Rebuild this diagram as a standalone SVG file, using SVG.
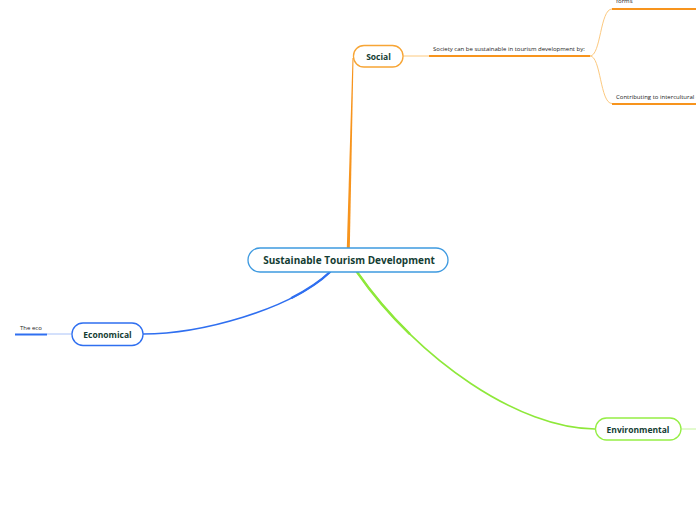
<svg xmlns="http://www.w3.org/2000/svg" width="696" height="520" viewBox="0 0 696 520">
<style>
.node rect{fill:#fff;stroke-width:1.3}
.lbl{font-family:"Open Sans","Noto Sans",sans-serif;font-weight:bold;fill:#143d33;text-anchor:middle}
.sub{font-family:"Open Sans","Noto Sans",sans-serif;font-size:6px;fill:#222}
.thin{fill:none;stroke-width:1}
.main{fill:none;stroke-linecap:round}
</style>
<rect width="696" height="520" fill="#fff"/>
<g id="connectors">
  <path d="M346.8,248 L352.5,58 L353.5,58 L349.8,248 Z" fill="#f7941d"/>
  <path class="main" d="M330,272 C 290,310 200,334 143,334" stroke="#2f6ff0" stroke-width="1.6"/>
  <path class="main" d="M330,272 C 320,281.5 306.9,290.1 291.9,297.7" stroke="#2f6ff0" stroke-width="2.4"/>
  <path class="main" d="M357,272 C 418,360 520,429 595,429" stroke="#8ee83a" stroke-width="1.6"/>
  <path class="main" d="M357,272 C 372.25,294 390.06,314.81 409.4,333.7" stroke="#8ee83a" stroke-width="2.4"/>
  <path class="thin" d="M403,56 H429" stroke="#fcc97f"/>
  <path d="M429,56 H590" stroke="#f7941d" stroke-width="2"/>
  <path class="thin" d="M590,56 C 601,56 600,9 612,9" stroke="#fcc97f"/>
  <path class="thin" d="M590,56 C 601,56 600,103.5 612,103.5" stroke="#fcc97f"/>
  <path d="M612,9 H696" stroke="#f7941d" stroke-width="2"/>
  <path d="M612,104 H696" stroke="#f7941d" stroke-width="2"/>
  <path class="thin" d="M72,334 H47" stroke="#a9c2f8"/>
  <path d="M47,334.5 H15" stroke="#2f6ff0" stroke-width="2"/>
  <path class="thin" d="M681,429 H696" stroke="#c4f59a"/>
</g>
<g id="central" class="node">
  <rect x="248" y="248" width="200" height="24" rx="12" stroke="#3e9ae0"/>
  <text class="lbl" x="349" y="264" font-size="10">Sustainable Tourism Development</text>
</g>
<g id="social" class="node">
  <rect x="353.5" y="45.5" width="49.5" height="21.5" rx="10.5" stroke="#f7a535"/>
  <text class="lbl" x="378.5" y="59.5" font-size="8.5">Social</text>
</g>
<g id="economical" class="node">
  <rect x="72" y="323" width="71" height="22.5" rx="11" stroke="#2f6ff0"/>
  <text class="lbl" x="107.5" y="337.5" font-size="8.5">Economical</text>
</g>
<g id="environmental" class="node">
  <rect x="595.5" y="418" width="85.5" height="22" rx="11" stroke="#95ee45"/>
  <text class="lbl" x="638" y="432.5" font-size="8.5">Environmental</text>
</g>
<g id="social-sub">
  <text class="sub" x="433" y="51">Society can be sustainable in tourism development by:</text>
</g>
<g id="social-sub-1">
  <text class="sub" x="616" y="3">forms</text>
</g>
<g id="social-sub-2">
  <text class="sub" x="616" y="98.5">Contributing to intercultural communication</text>
</g>
<g id="eco-sub">
  <text class="sub" x="20" y="330">The eco</text>
</g>
</svg>
